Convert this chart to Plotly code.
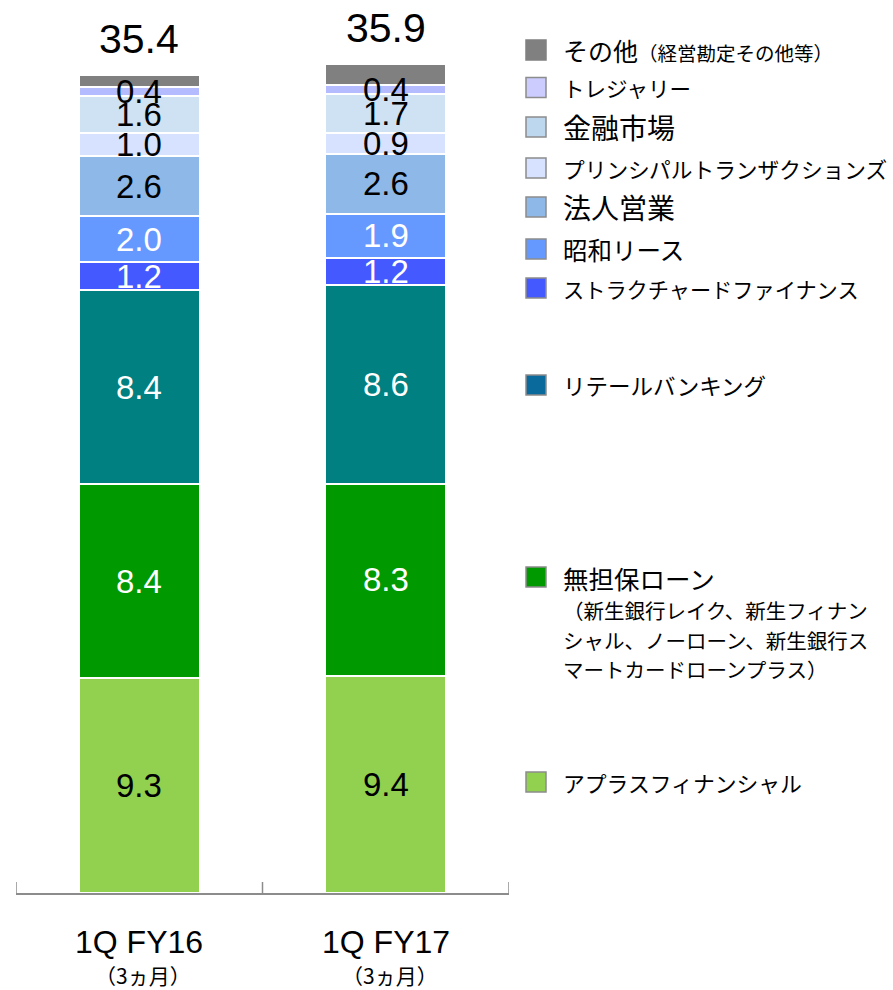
import plotly.graph_objects as go

# ---- data (billions of yen, stacked bottom to top) ----
categories = ["1Q FY16", "1Q FY17"]
period_note = "（3ヵ月）"

segment_names = [
    "アプラスフィナンシャル",
    "無担保ローン",
    "リテールバンキング",
    "ストラクチャードファイナンス",
    "昭和リース",
    "法人営業",
    "プリンシパルトランザクションズ",
    "金融市場",
    "トレジャリー",
    "その他",
]
aplus = [9.3, 9.4]
unsecured_loans = [8.4, 8.3]
retail_banking = [8.4, 8.6]
structured_finance = [1.2, 1.2]
showa_leasing = [2.0, 1.9]
corporate = [2.6, 2.6]
principal_tx = [1.0, 0.9]
markets = [1.6, 1.7]
treasury = [0.4, 0.4]
other = [0.5, 0.9]
totals = [35.4, 35.9]

segment_values = [aplus, unsecured_loans, retail_banking, structured_finance,
                  showa_leasing, corporate, principal_tx, markets, treasury, other]
show_label = [True, True, True, True, True, True, True, True, True, False]

# ---- styling ----
bar_colors = ["#92D050", "#009900", "#008080", "#4459FF", "#6699FF",
              "#8DB8E8", "#D6E2FF", "#CFE2F3", "#B4BBFF", "#808080"]
legend_colors = ["#92D050", "#009900", "#0B6A9C", "#4459FF", "#6699FF",
                 "#8DB8E8", "#D6E2FF", "#BDD7EE", "#CCCCFF", "#808080"]
label_colors = ["black", "white", "white", "white", "white",
                "black", "black", "black", "black", "black"]

NUM_FONT = "Arial, 'Liberation Sans', sans-serif"
JP_FONT = "'Noto Sans CJK JP', 'Noto Sans CJK SC', sans-serif"
AXIS_GREY = "#8C8C8C"

W, H = 893, 990
PLOT_L, PLOT_R = 16, 509          # plot area in px
PLOT_B = 893                       # baseline in px
PX_PER_UNIT = 23.1

fig = go.Figure()

for name, vals, color in zip(segment_names, segment_values, bar_colors):
    fig.add_trace(go.Bar(
        x=categories, y=vals, name=name,
        marker=dict(color=color, line=dict(color="white", width=2)),
        width=0.49, showlegend=False, hoverinfo="skip",
    ))

# value labels centred in each segment
for ci, cat in enumerate(categories):
    base = 0.0
    for si, vals in enumerate(segment_values):
        v = vals[ci]
        if show_label[si]:
            fig.add_annotation(
                x=cat, y=base + v / 2, xref="x", yref="y",
                text=f"{v:.1f}", showarrow=False,
                font=dict(family=NUM_FONT, size=33, color=label_colors[si]),
                xanchor="center", yanchor="middle",
            )
        base += v
    # totals above the stacks
    fig.add_annotation(
        x=cat, y=totals[ci], xref="x", yref="y",
        text=f"{totals[ci]:.1f}", showarrow=False,
        font=dict(family=NUM_FONT, size=41, color="black"),
        xanchor="center", yanchor="middle", yshift=36,
    )
    # category labels below the axis
    fig.add_annotation(
        x=cat, y=0, xref="x", yref="y", text=cat, showarrow=False,
        font=dict(family=NUM_FONT, size=32, color="black"),
        xanchor="center", yanchor="middle", yshift=-49,
    )
    fig.add_annotation(
        x=cat, y=0, xref="x", yref="y", text=period_note, showarrow=False,
        font=dict(family=JP_FONT, size=21, color="black"),
        xanchor="center", yanchor="middle", yshift=-82, xshift=4,
    )

# tick marks at the category boundaries, pointing up from the axis line
for i in range(len(categories) + 1):
    fig.add_shape(
        type="line", xref="x", yref="y",
        x0=i - 0.5, x1=i - 0.5, y0=0, y1=11 / PX_PER_UNIT,
        line=dict(color=AXIS_GREY, width=1.5),
    )


def px_x(px):
    return (px - PLOT_L) / (PLOT_R - PLOT_L)


def px_y(py):
    return (PLOT_B - py) / PLOT_B


# ---- hand-placed legend on the right ----
legend_rows = {
    "その他": 50, "トレジャリー": 87.5, "金融市場": 127, "プリンシパルトランザクションズ": 168,
    "法人営業": 207, "昭和リース": 249, "ストラクチャードファイナンス": 288,
    "リテールバンキング": 385, "無担保ローン": 577, "アプラスフィナンシャル": 782,
}
legend_sizes = {
    "その他": 25, "トレジャリー": 21.5, "金融市場": 28, "プリンシパルトランザクションズ": 21.7,
    "法人営業": 28, "昭和リース": 24.5, "ストラクチャードファイナンス": 21.2,
    "リテールバンキング": 22.5, "無担保ローン": 25.5, "アプラスフィナンシャル": 21.8,
}
for name, col in zip(segment_names, legend_colors):
    cy = legend_rows[name]
    border = col if name == "その他" else AXIS_GREY
    fig.add_shape(
        type="rect", xref="paper", yref="paper",
        x0=px_x(526), x1=px_x(546), y0=px_y(cy + 10), y1=px_y(cy - 10),
        fillcolor=col, line=dict(color=border, width=1.5),
    )
    text = name
    if name == "その他":
        text = "その他<span style='font-size:19.5px'>（経営勘定その他等）</span>"
    fig.add_annotation(
        x=px_x(561), y=px_y(cy), xref="paper", yref="paper", text=text,
        showarrow=False, xanchor="left", yanchor="middle",
        font=dict(family=JP_FONT, size=legend_sizes[name], color="black"),
    )

sub_lines = ["（新生銀行レイク、新生フィナン", "シャル、ノーローン、新生銀行ス", "マートカードローンプラス）"]
for line, cy in zip(sub_lines, [610, 640, 669]):
    fig.add_annotation(
        x=px_x(561), y=px_y(cy), xref="paper", yref="paper", text=line,
        showarrow=False, xanchor="left", yanchor="middle",
        font=dict(family=JP_FONT, size=20.5, color="black"),
    )

fig.update_layout(
    width=W, height=H,
    margin=dict(l=PLOT_L, r=W - PLOT_R, t=0, b=H - PLOT_B),
    barmode="stack",
    plot_bgcolor="white", paper_bgcolor="white",
    xaxis=dict(
        type="category", range=[-0.5, 1.5], showgrid=False, zeroline=False,
        showline=True, linecolor=AXIS_GREY, linewidth=1.5,
        ticks="", showticklabels=False,
    ),
    yaxis=dict(range=[0, PLOT_B / PX_PER_UNIT], visible=False),
)

fig.write_html("out.html")
